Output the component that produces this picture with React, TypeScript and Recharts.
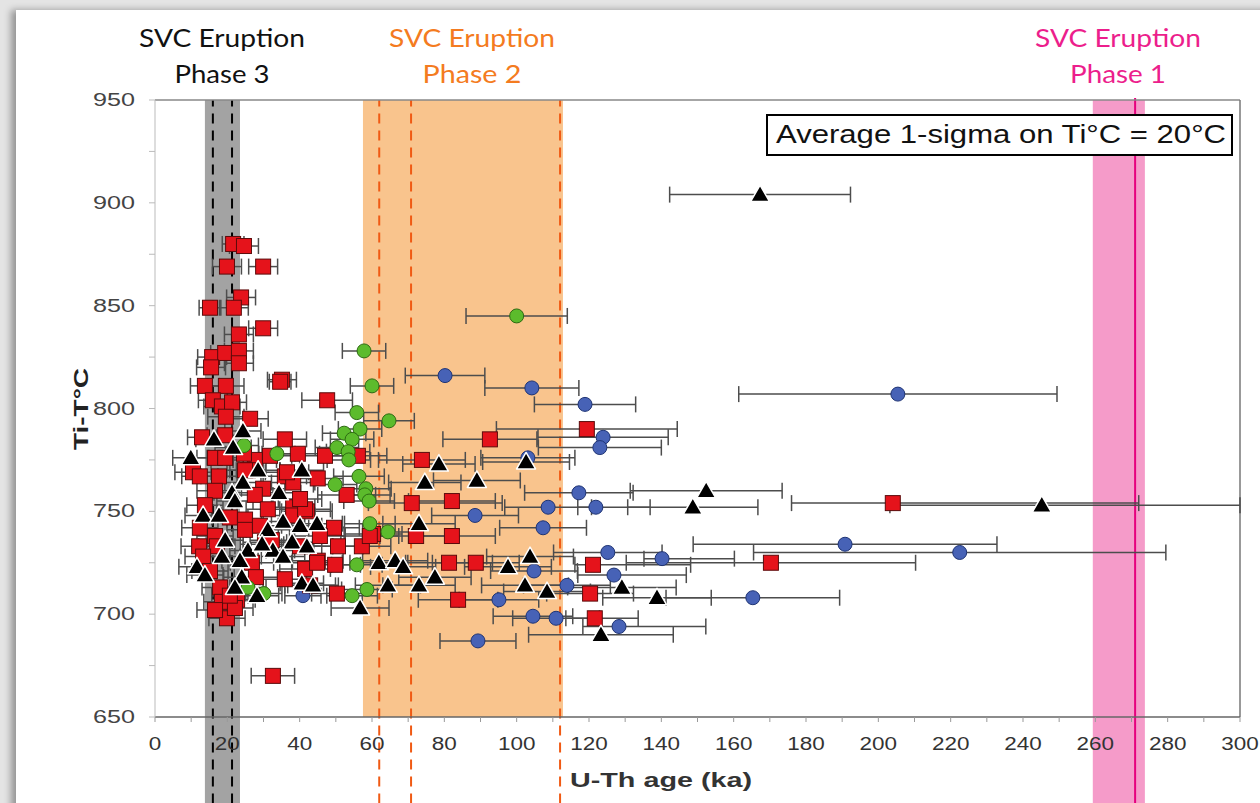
import React from "react";
import {
  ErrorBar,
  ReferenceArea,
  ReferenceLine,
  Scatter,
  ScatterChart,
  XAxis,
  YAxis,
} from "recharts";

type Grain = { age: number; t: number; err: number | [number, number] };

const g = (age: number, t: number, err: number | [number, number]): Grain => ({ age, t, err });

// zircon ages (ka) vs Ti-in-zircon temperature, horizontal bars = age uncertainty
const redSquares: Grain[] = [
  g(21.6, 880, 3), g(24.6, 879, 4), g(19.9, 869, 4), g(29.9, 869, 4), g(23.8, 854, 4),
  g(15.2, 849, 3), g(21.8, 849, 4), g(29.9, 839, 4), g(23.2, 836, 4), g(15.8, 825, 4),
  g(19.4, 827, 4), g(23.2, 828, 4), g(23.2, 822, 4), g(15.5, 820, 4), g(35.1, 814, 4),
  g(34.6, 813, 3), g(13.8, 811, 4), g(19.6, 811, 5), g(16, 804, 4), g(18.5, 801, 5),
  g(21.3, 803, 4), g(19.6, 796, 5), g(26.3, 795, 5), g(47.6, 804, 7), g(13, 786, 4),
  g(19.4, 787, 5), g(10.5, 769, 5), g(16.6, 776, 5), g(19.4, 776, 5), g(27.6, 775, 6),
  g(39.5, 778, 6), g(24.6, 778, 5), g(17.7, 767, 5), g(25.7, 770, 5), g(35.9, 767, 6),
  g(38.2, 764, 6), g(45, 766, 7), g(29.9, 761, 6), g(27.6, 758, 5), g(53, 758, 8),
  g(56.1, 777, 8), g(31.2, 751, 6), g(38.2, 752, 6), g(42, 750, 7), g(38.2, 748, 6),
  g(24.9, 746, 5), g(24.9, 741, 5), g(12.4, 742, 5), g(16.6, 738, 5), g(49.5, 742, 7),
  g(50.6, 733, 7), g(57.2, 733, 8), g(12.2, 733, 5), g(17.1, 733, 5), g(26.8, 725, 6),
  g(35.9, 717, 6), g(27.9, 718, 6), g(18, 713, 5), g(18.5, 706, 5), g(22.7, 707, 5),
  g(19.9, 698, 5), g(50.3, 710, 7), g(60.3, 739, 8), g(73.8, 775, 12), g(71, 754, [12, 25]),
  g(72.2, 738, 10), g(82.1, 755, 12), g(82.1, 738, 12), g(59.4, 738, 8), g(92.6, 785, 13),
  g(119.4, 790, 25), g(121.1, 724, [5, 27]), g(81.3, 725, 12), g(88.7, 725, 12), g(120.3, 710, 12),
  g(83.8, 707, 11), g(121.6, 698, [8, 12]), g(204, 754, [28, 68]), g(170.3, 725, 40), g(32.6, 670, 6),
  g(45, 726, 7), g(41.5, 751, 7), g(36.5, 769, 6), g(13.3, 728, 5), g(41.5, 722, 7),
  g(44.8, 725, 7), g(22.1, 703, 5), g(30.4, 735, 6), g(12.4, 767, 5), g(16.6, 760, 5),
  g(13.8, 753, 5), g(20.7, 747, 5), g(29, 743, 6), g(32.3, 736, 6), g(40.1, 733, 6),
  g(45.6, 738, 7), g(15.2, 721, 5), g(20.7, 709, 5), g(16.6, 702, 5), g(31.8, 777, 6),
  g(35.9, 785, 6), g(24.9, 770, 5), g(42.9, 714, 7), g(49.8, 724, 7), g(47, 777, 7),
  g(40.1, 756, 6),
];

const blackTriangles: Grain[] = [
  g(167.3, 904, 25), g(245.2, 753, [42, 54.8]), g(152.4, 760, 21), g(148.7, 752, 18), g(138.8, 708, 15),
  g(129.1, 713, 15), g(123.3, 690, 20), g(103.7, 728, 12), g(102.3, 714, 12), g(108.4, 711, 12),
  g(97.6, 723, 12), g(102.6, 774, 12), g(89, 765, 12), g(78.5, 773, 10), g(74.6, 764, 10),
  g(73, 744, 10), g(61.9, 725, 8), g(66.4, 726, 9), g(68.6, 723, 9), g(64.4, 714, 9),
  g(73, 714, 10), g(77.4, 718, 10), g(56.7, 703, 8), g(16.3, 785, 5), g(24.3, 789, 5),
  g(21.6, 781, 5), g(9.9, 776, 5), g(40.6, 770, 6), g(24.3, 764, 5), g(34.3, 759, 6),
  g(21.3, 759, 5), g(22.1, 755, 5), g(13.3, 748, 5), g(17.7, 748, 5), g(44.8, 744, 7),
  g(31.2, 741, 6), g(35.4, 745, 6), g(25.7, 731, 5), g(37.9, 735, 6), g(32.6, 731, 6),
  g(35.4, 728, 6), g(42, 733, 7), g(18.5, 728, 5), g(11.6, 723, 5), g(23.5, 726, 5),
  g(24, 718, 5), g(40.6, 715, 6), g(43.7, 714, 7), g(22.1, 713, 5), g(28.2, 709, 6),
  g(29.6, 734, 6), g(40.1, 743, 6), g(19.4, 736, 5), g(13.8, 719, 5), g(28.5, 770, 6),
];

const greenCircles: Grain[] = [
  g(100, 845, 14), g(57.8, 828, 6), g(60, 811, 6), g(55.8, 798, 6), g(64.7, 794, 7),
  g(56.7, 790, 6), g(52.3, 788, 6), g(54.5, 785, 6), g(50.3, 781, 6), g(53.4, 779, 6),
  g(53.6, 775, 6), g(33.7, 778, 5), g(24.6, 782, 4), g(56.4, 767, 7), g(49.8, 763, 6),
  g(58.3, 761, 7), g(58, 758, 7), g(59.2, 755, 7), g(59.4, 744, 7), g(64.4, 740, 7),
  g(55.8, 724, 7), g(58.6, 712, 7), g(54.5, 709, 7), g(30.1, 710, 5), g(25.7, 713, 5),
];

const blueCircles: Grain[] = [
  g(80.2, 816, 11), g(104.2, 810, 13), g(118.9, 802, 14), g(205.4, 807, 44), g(123.9, 786, 18),
  g(123, 781, 17), g(103.1, 776, 13), g(117.2, 759, 15), g(121.9, 752, [5, 15]), g(108.7, 752, 12),
  g(88.5, 748, 12), g(107.3, 742, 12), g(125.2, 730, 15), g(140.2, 727, [5, 20]), g(190.8, 734, 42),
  g(222.5, 730, 57), g(104.8, 721, 12), g(126.9, 719, [10, 20]), g(113.9, 714, 12), g(165.3, 708, 24),
  g(95.1, 707, 11), g(104.5, 699, 11), g(110.9, 698, 12), g(128.3, 694, [10, 24]), g(89.3, 687, 10.5),
  g(40.9, 709, 5),
];

const xTicks = [0, 10, 20, 30, 40, 50, 60, 70, 80, 90, 100, 110, 120, 130, 140, 150, 160, 170, 180, 190, 200, 210, 220, 230, 240, 250, 260, 270, 280, 290, 300];
const yTicks = [650, 675, 700, 725, 750, 775, 800, 825, 850, 875, 900, 925, 950];

// eruption phases: band limits and dashed markers (ka)
const phase3Band = [13.8, 23.5];
const phase3Lines = [16, 21.3];
const phase2Band = [57.5, 112.8];
const phase2Lines = [62, 70.8, 112];
const phase1Band = [259.3, 273.7];
const phase1Line = 271;

const W = 1260;
const H = 803;

const Square = (p: any) => (
  <rect x={p.cx - 7.5} y={p.cy - 7.5} width={15} height={15} fill="#e5131b" stroke="#5b0b0b" strokeWidth={1} />
);
const Triangle = (p: any) => (
  <polygon
    points={`${p.cx},${p.cy - 9.5} ${p.cx + 9.5},${p.cy + 7} ${p.cx - 9.5},${p.cy + 7}`}
    fill="#000"
    stroke="#fff"
    strokeWidth={1.5}
    strokeLinejoin="round"
  />
);
const Green = (p: any) => <circle cx={p.cx} cy={p.cy} r={7} fill="#5cbb2c" stroke="#2d6a12" strokeWidth={1} />;
const Blue = (p: any) => <circle cx={p.cx} cy={p.cy} r={7} fill="#4762b6" stroke="#1f3474" strokeWidth={1} />;

const XTick = (p: any) => {
  const v = p.payload.value as number;
  if (v % 20 !== 0) return null;
  const s = String(v);
  return (
    <text x={p.x} y={p.y + 26} textAnchor="middle" fontSize={18} fill="#333" fontFamily="Liberation Sans"
      textLength={s.length * 12.5} lengthAdjust="spacingAndGlyphs">
      {s}
    </text>
  );
};

const YTick = (p: any) => {
  const v = p.payload.value as number;
  if (v % 50 !== 0) return null;
  return (
    <text x={p.x - 12} y={p.y + 6} textAnchor="end" fontSize={18} fill="#444" fontFamily="Liberation Sans"
      textLength={42} lengthAdjust="spacingAndGlyphs">
      {v}
    </text>
  );
};

const errStyle = { stroke: "#4d4d4d", strokeWidth: 1.5, width: 8 };

const headers = [
  { x: 222, color: "#111", l1: "SVC Eruption", l2: "Phase 3", w2: 95 },
  { x: 472, color: "#f47b20", l1: "SVC Eruption", l2: "Phase 2", w2: 99 },
  { x: 1118, color: "#ec1e8c", l1: "SVC Eruption", l2: "Phase 1", w2: 96 },
];

export default function App() {
  return (
    <div style={{ position: "absolute", left: 0, top: 0, width: W, height: H, background: "#e4e4e4", overflow: "hidden" }}>
      <div style={{ position: "absolute", left: 16, top: 10, width: W, height: H, background: "#fff", boxShadow: "-5px 0 7px rgba(0,0,0,0.35)" }} />
      <div style={{ position: "absolute", left: 0, top: 0 }}>
        <ScatterChart width={W} height={H} margin={{ top: 100, right: 20, bottom: 46, left: 95 }}>
          <XAxis
            type="number"
            dataKey="age"
            domain={[0, 300]}
            allowDataOverflow
            ticks={xTicks}
            interval={0}
            tick={<XTick />}
            tickSize={5}
            height={40}
            axisLine={{ stroke: "#666", strokeWidth: 1.5 }}
            tickLine={{ stroke: "#999" }}
          />
          <YAxis
            type="number"
            dataKey="t"
            domain={[650, 950]}
            ticks={yTicks}
            interval={0}
            tick={<YTick />}
            tickSize={6}
            width={60}
            axisLine={{ stroke: "#bbb" }}
            tickLine={{ stroke: "#bbb" }}
          />
          <ReferenceArea x1={phase3Band[0]} x2={phase3Band[1]} y1={608} y2={950} ifOverflow="visible" fill="#a3a3a3" fillOpacity={1} stroke="none" />
          <ReferenceArea x1={phase2Band[0]} x2={phase2Band[1]} y1={650} y2={950} fill="#f9c48d" fillOpacity={1} stroke="none" />
          <ReferenceArea x1={phase1Band[0]} x2={phase1Band[1]} y1={608} y2={950} ifOverflow="visible" fill="#f59bc9" fillOpacity={1} stroke="none" />
          {phase3Lines.map((x) => (
            <ReferenceLine key={`p3-${x}`} segment={[{ x, y: 608 }, { x, y: 950 }]} ifOverflow="visible" stroke="#000" strokeWidth={2} strokeDasharray="10 7" />
          ))}
          {phase2Lines.map((x) => (
            <ReferenceLine key={`p2-${x}`} segment={[{ x, y: 608 }, { x, y: 950 }]} ifOverflow="visible" stroke="#f05a14" strokeWidth={2} strokeDasharray="10 7" />
          ))}
          <ReferenceLine segment={[{ x: phase1Line, y: 608 }, { x: phase1Line, y: 951 }]} ifOverflow="visible" stroke="#e6007e" strokeWidth={2} />
          <ReferenceLine y={950} stroke="#888" strokeWidth={1.5} />
          <ReferenceLine x={300} stroke="#777" strokeWidth={1.5} />
          <Scatter data={blueCircles} shape={<Blue />} isAnimationActive={false}>
            <ErrorBar dataKey="err" direction="x" {...errStyle} />
          </Scatter>
          <Scatter data={redSquares} shape={<Square />} isAnimationActive={false}>
            <ErrorBar dataKey="err" direction="x" {...errStyle} />
          </Scatter>
          <Scatter data={greenCircles} shape={<Green />} isAnimationActive={false}>
            <ErrorBar dataKey="err" direction="x" {...errStyle} />
          </Scatter>
          <Scatter data={blackTriangles} shape={<Triangle />} isAnimationActive={false}>
            <ErrorBar dataKey="err" direction="x" {...errStyle} />
          </Scatter>
        </ScatterChart>
      </div>
      <svg width={W} height={H} style={{ position: "absolute", left: 0, top: 0, pointerEvents: "none" }}>
        {headers.map((h) => (
          <g key={h.l2} fill={h.color} fontFamily="Lato" fontSize={25}>
            <text x={h.x} y={47} textAnchor="middle" textLength={166} lengthAdjust="spacingAndGlyphs">{h.l1}</text>
            <text x={h.x} y={83} textAnchor="middle" textLength={h.w2} lengthAdjust="spacingAndGlyphs">{h.l2}</text>
          </g>
        ))}
        <rect x={767} y={115} width={465} height={40} fill="#fff" stroke="#000" strokeWidth={2} />
        <text x={776} y={143} fontSize={25} fontFamily="Liberation Sans" fill="#111" textLength={450} lengthAdjust="spacingAndGlyphs">
          Average 1-sigma on Ti°C = 20°C
        </text>
        <text x={661} y={787} textAnchor="middle" fontSize={20} fontWeight="bold" fontFamily="Liberation Sans" fill="#333"
          textLength={182} lengthAdjust="spacingAndGlyphs">
          U-Th age (ka)
        </text>
        <text x={88} y={409} transform="rotate(-90 88 409)" textAnchor="middle" fontSize={20} fontWeight="bold"
          fontFamily="Liberation Sans" fill="#222" textLength={82} lengthAdjust="spacingAndGlyphs">
          Ti-T°C
        </text>
      </svg>
    </div>
  );
}
